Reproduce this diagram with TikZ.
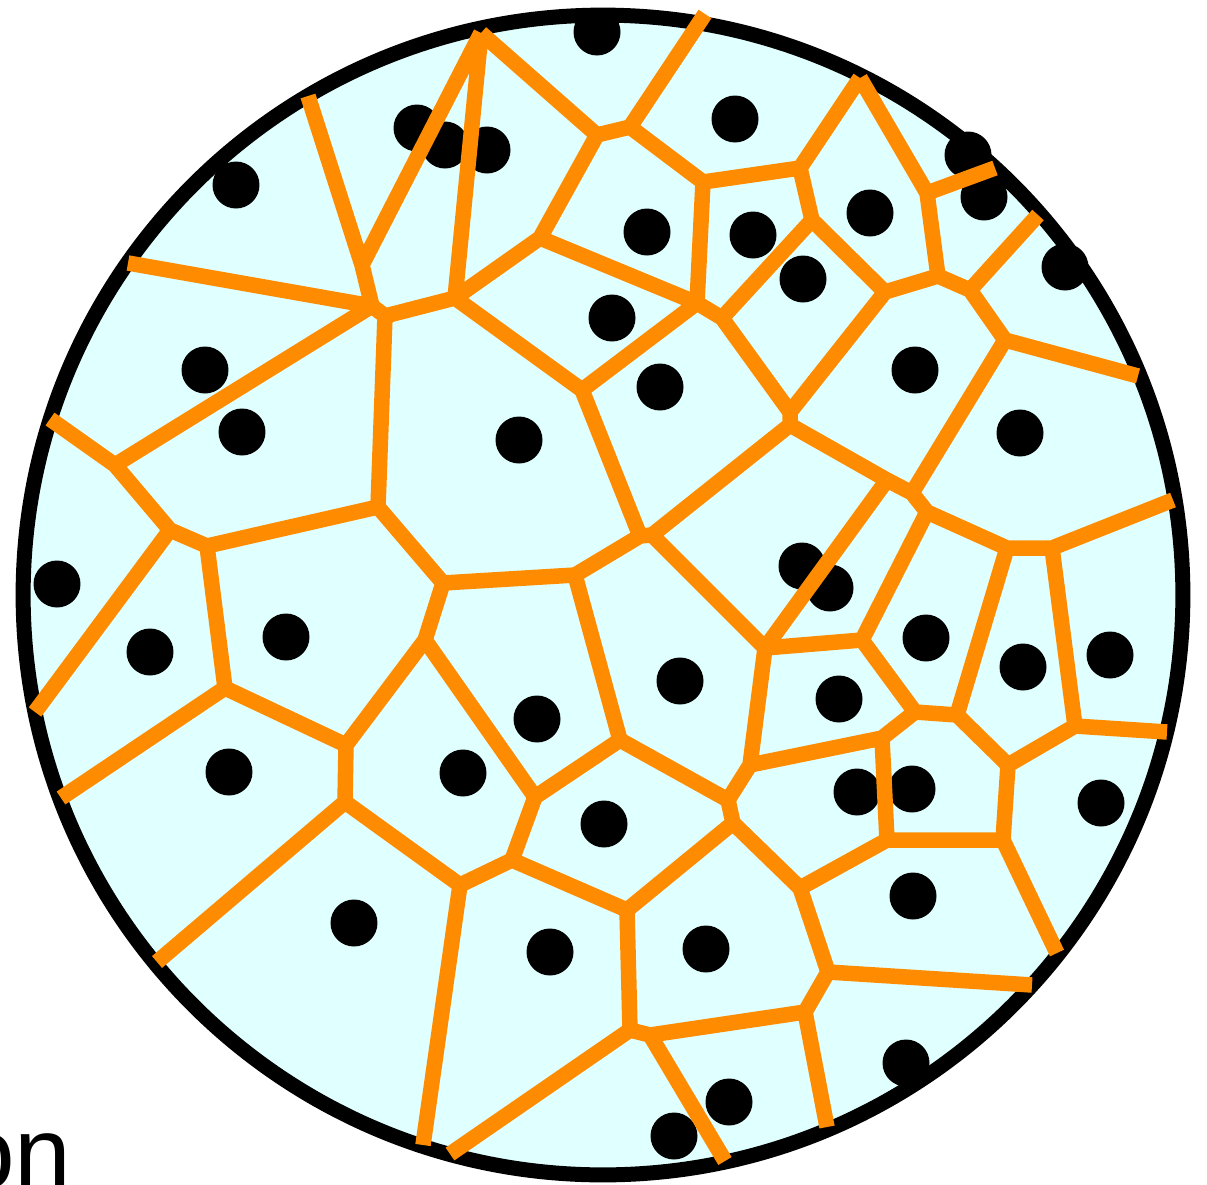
\documentclass[tikz,border=0pt]{standalone}
\usepackage{fontspec}
\usepackage{xcolor}
\usepackage{tikz}
\newfontfamily\lblfont{Liberation Sans}
\definecolor{cellfill}{HTML}{E0FFFF}
\definecolor{edgeorange}{HTML}{FF8C00}
\tikzset{
	rim/.style={draw=black, line width=0.30cm, fill=cellfill},
	seed/.style={circle, fill=black, inner sep=0pt, minimum size=0.94cm},
	edge/.style={draw=edgeorange, line width=0.31cm, line cap=butt},
	lbl/.style={font=\lblfont\fontsize{58}{60}\selectfont, inner sep=0pt, anchor=base east},
}

\begin{document}
\begin{tikzpicture}[x=0.02cm, y=-0.02cm]
	\useasboundingbox (0,0) rectangle (1207,1184);
	% disc
	\draw[rim] (603,595) circle (11.6cm);
	% seed points
	\node[seed] (s1) at (597,32) {};   \node[seed] (s2) at (735,119) {};  \node[seed] (s3) at (417,128) {};
	\node[seed] (s4) at (445,145) {};  \node[seed] (s5) at (487,150) {};  \node[seed] (s6) at (236,185) {};
	\node[seed] (s7) at (968,155) {};  \node[seed] (s8) at (984,197) {};  \node[seed] (s9) at (870,213) {};
	\node[seed] (s10) at (1065,267) {}; \node[seed] (s11) at (647,232) {}; \node[seed] (s12) at (753,235) {};
	\node[seed] (s13) at (803,279) {}; \node[seed] (s14) at (612,318) {}; \node[seed] (s15) at (660,387) {};
	\node[seed] (s16) at (915,370) {}; \node[seed] (s17) at (205,370) {}; \node[seed] (s18) at (242,432) {};
	\node[seed] (s19) at (1020,433) {}; \node[seed] (s20) at (519,440) {}; \node[seed] (s21) at (57,584) {};
	\node[seed] (s22) at (150,652) {}; \node[seed] (s23) at (286,637) {}; \node[seed] (s24) at (802,566) {};
	\node[seed] (s25) at (830,588) {}; \node[seed] (s26) at (926,638) {}; \node[seed] (s27) at (1023,667) {};
	\node[seed] (s28) at (1110,655) {}; \node[seed] (s29) at (680,681) {}; \node[seed] (s30) at (839,699) {};
	\node[seed] (s31) at (537,719) {}; \node[seed] (s32) at (463,773) {}; \node[seed] (s33) at (229,772) {};
	\node[seed] (s34) at (857,792) {}; \node[seed] (s35) at (912,789) {}; \node[seed] (s36) at (1101,803) {};
	\node[seed] (s37) at (604,824) {}; \node[seed] (s38) at (913,896) {}; \node[seed] (s39) at (354,923) {};
	\node[seed] (s40) at (550,952) {}; \node[seed] (s41) at (706,949) {}; \node[seed] (s42) at (906,1063) {};
	\node[seed] (s43) at (729,1102) {}; \node[seed] (s44) at (674,1136) {};
	% cell corners
	\coordinate (v1) at (372,306);  \coordinate (v2) at (385,316);  \coordinate (v3) at (481,33);
	\coordinate (v4) at (455,298);  \coordinate (v5) at (540,238);  \coordinate (v6) at (597,135);
	\coordinate (v7) at (630,127);  \coordinate (v8) at (703,182);  \coordinate (v9) at (800,168);
	\coordinate (v10) at (860,78);  \coordinate (v11) at (927,193); \coordinate (v12) at (938,276);
	\coordinate (v13) at (970,290); \coordinate (v14) at (1005,340); \coordinate (v15) at (812,220);
	\coordinate (v16) at (885,292); \coordinate (v17) at (697,303); \coordinate (v18) at (722,318);
	\coordinate (v19) at (582,390); \coordinate (v20) at (790,412); \coordinate (v21) at (790,425);
	\coordinate (v22) at (887,480); \coordinate (v23) at (912,493); \coordinate (v24) at (927,512);
	\coordinate (v25) at (1007,548); \coordinate (v26) at (1052,548); \coordinate (v27) at (957,715);
	\coordinate (v28) at (915,712); \coordinate (v29) at (862,640); \coordinate (v30) at (765,648);
	\coordinate (v31) at (750,765); \coordinate (v32) at (882,738); \coordinate (v33) at (887,840);
	\coordinate (v34) at (1003,840); \coordinate (v35) at (1008,765); \coordinate (v36) at (1075,726);
	\coordinate (v37) at (800,888); \coordinate (v38) at (828,972); \coordinate (v39) at (805,1012);
	\coordinate (v40) at (650,1035); \coordinate (v41) at (630,1030); \coordinate (v42) at (627,910);
	\coordinate (v43) at (733,823); \coordinate (v44) at (728,800); \coordinate (v45) at (620,740);
	\coordinate (v46) at (535,797); \coordinate (v47) at (512,860); \coordinate (v48) at (460,885);
	\coordinate (v49) at (345,802); \coordinate (v50) at (346,745); \coordinate (v51) at (425,640);
	\coordinate (v52) at (443,583); \coordinate (v53) at (575,575); \coordinate (v54) at (640,536);
	\coordinate (v55) at (652,535); \coordinate (v56) at (378,507); \coordinate (v57) at (207,546);
	\coordinate (v58) at (170,530); \coordinate (v59) at (115,465); \coordinate (v60) at (225,688);
	\coordinate (v61) at (362,265);
	% open ends on the rim
	\coordinate (b1) at (308,96);   \coordinate (b2) at (128,263);  \coordinate (b3) at (50,419);
	\coordinate (b4) at (35,712);   \coordinate (b5) at (61,798);   \coordinate (b6) at (157,962);
	\coordinate (b7) at (423,1145); \coordinate (b8) at (450,1154); \coordinate (b9) at (725,1161);
	\coordinate (b10) at (827,1127); \coordinate (b11) at (1032,985); \coordinate (b12) at (1057,953);
	\coordinate (b13) at (1167,732); \coordinate (b14) at (1173,500); \coordinate (b15) at (1138,376);
	\coordinate (b16) at (1038,215); \coordinate (b17) at (995,168); \coordinate (b18) at (705,14);
	% cell borders
	\draw[edge] (b1) -- (v61) (v61) -- (v3) (v61) -- (v1) (b2) -- (v1) (v1) -- (v59) (v1) -- (v2)
		(v2) -- (v4) (v2) -- (v56) (v3) -- (v4) (v3) -- (v6) (v4) -- (v5) (v4) -- (v19)
		(v5) -- (v6) (v5) -- (v17) (v6) -- (v7) (v7) -- (b18) (v7) -- (v8) (v8) -- (v9) (v8) -- (v17);
	\draw[edge] (v9) -- (v10) (v9) -- (v15) (v10) -- (v11) (v11) -- (b17) (v11) -- (v12)
		(v12) -- (v16) (v12) -- (v13) (v13) -- (b16) (v13) -- (v14) (v14) -- (b15) (v14) -- (v23)
		(v15) -- (v18) (v15) -- (v16) (v16) -- (v20) (v17) -- (v18) (v17) -- (v19) (v18) -- (v20)
		(v19) -- (v54) (v20) -- (v21) (v21) -- (v55) (v21) -- (v22);
	\draw[edge] (v22) -- (v23) (v22) -- (v30) (v23) -- (v24) (v24) -- (v25) (v24) -- (v29)
		(v25) -- (v26) (v25) -- (v27) (v26) -- (b14) (v26) -- (v36) (v27) -- (v28) (v27) -- (v35)
		(v28) -- (v29) (v28) -- (v32) (v29) -- (v30) (v30) -- (v55) (v30) -- (v31) (v31) -- (v44)
		(v31) -- (v32) (v32) -- (v33) (v33) -- (v34) (v33) -- (v37) (v34) -- (v35) (v34) -- (b12)
		(v35) -- (v36) (v36) -- (b13);
	\draw[edge] (v37) -- (v43) (v37) -- (v38) (v38) -- (b11) (v38) -- (v39) (v39) -- (v40)
		(v39) -- (b10) (v40) -- (v41) (v40) -- (b9) (v41) -- (v42) (v41) -- (b8) (v42) -- (v43)
		(v42) -- (v47) (v43) -- (v44) (v44) -- (v45) (v45) -- (v53) (v45) -- (v46) (v46) -- (v51)
		(v46) -- (v47) (v47) -- (v48) (v48) -- (v49) (v48) -- (b7) (v49) -- (v50) (v49) -- (b6);
	\draw[edge] (v50) -- (v51) (v50) -- (v60) (v51) -- (v52) (v52) -- (v53) (v52) -- (v56)
		(v53) -- (v54) (v54) -- (v55) (v56) -- (v57) (v57) -- (v58) (v57) -- (v60) (v58) -- (v59)
		(v58) -- (b4) (v59) -- (b3) (v60) -- (b5);
	% cut-off caption
	\node[lbl] (cap) at (72,1188) {on};
\end{tikzpicture}
\end{document}
